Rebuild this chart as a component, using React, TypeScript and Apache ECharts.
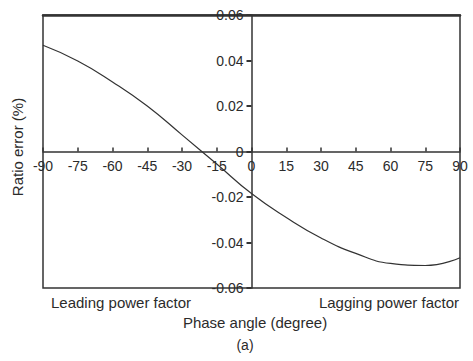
import React, { useEffect, useRef } from "react";
import * as echarts from "echarts";

const phaseAngles = [-90, -75, -60, -45, -30, -15, 0, 15, 30, 45, 60, 75, 90];
const ratioError = [0.0467, 0.0398, 0.0306, 0.02, 0.0073, -0.0055, -0.0185, -0.029, -0.038, -0.0448, -0.0492, -0.0501, -0.0467];
const xTitle = "Phase angle (degree)";
const yTitle = "Ratio error (%)";
const leftNote = "Leading power factor";
const rightNote = "Lagging power factor";
const caption = "(a)";

const FONT = "'Liberation Sans', Arial, Helvetica, sans-serif";
const TXT = "#2b2b2b";

const W = 473;
const H = 361;
const G = { left: 43, right: 13, top: 15, bottom: 73 };

export default function App() {
  const ref = useRef<HTMLDivElement>(null);
  useEffect(() => {
    if (!ref.current) return;
    const chart = echarts.init(ref.current, null, { renderer: "svg" });
    const data = phaseAngles.map((a, i) => [a, ratioError[i]]);
    const gw = W - G.left - G.right;
    const gh = H - G.top - G.bottom;
    chart.setOption({
      animation: false,
      backgroundColor: "#fff",
      textStyle: { fontFamily: FONT },
      grid: {
        ...G,
        show: true,
        borderColor: "#333",
        borderWidth: 1.5,
        backgroundColor: "transparent",
      },
      xAxis: [
        {
          type: "value",
          min: -90,
          max: 90,
          interval: 15,
          offset: -gh / 2,
          axisLine: { onZero: false, lineStyle: { color: "#333", width: 1.5 } },
          axisTick: { show: true, inside: true, length: 4, lineStyle: { color: "#333", width: 1.5 } },
          axisLabel: { color: TXT, fontSize: 14, fontFamily: FONT, margin: 7 },
          splitLine: { show: false },
        },
        {
          type: "value",
          position: "top",
          min: -90,
          max: 90,
          axisLine: { show: true, onZero: false, lineStyle: { color: "#333", width: 2.5 } },
          axisTick: { show: false },
          axisLabel: { show: false },
          splitLine: { show: false },
        },
      ],
      yAxis: {
        type: "value",
        min: -0.06,
        max: 0.06,
        interval: 0.02,
        offset: -gw / 2,
        axisLine: { onZero: false, lineStyle: { color: "#333", width: 1.5 } },
        axisTick: { show: true, inside: false, length: 5, lineStyle: { color: "#333", width: 2 } },
        axisLabel: {
          color: TXT,
          fontSize: 14,
          fontFamily: FONT,
          margin: 8,
          formatter: (v: number) => (Math.abs(v) < 1e-9 ? "0" : v.toFixed(2)),
        },
        splitLine: { show: false },
      },
      series: [
        {
          type: "line",
          data,
          smooth: true,
          showSymbol: false,
          lineStyle: { color: "#333", width: 1.2 },
          xAxisIndex: 0,
        },
      ],
      graphic: [
        { type: "text", x: 51, y: 302, style: { text: leftNote, fontSize: 15, fontFamily: FONT, fill: TXT, align: "left", verticalAlign: "middle" } },
        { type: "text", x: 459, y: 302, style: { text: rightNote, fontSize: 15, fontFamily: FONT, fill: TXT, align: "right", verticalAlign: "middle" } },
        { type: "text", x: 255, y: 322, style: { text: xTitle, fontSize: 15, fontFamily: FONT, fill: TXT, align: "center", verticalAlign: "middle" } },
        { type: "text", x: 245, y: 345, style: { text: caption, fontSize: 14, fontFamily: FONT, fill: TXT, align: "center", verticalAlign: "middle" } },
        { type: "text", x: 17, y: 147, rotation: Math.PI / 2, style: { text: yTitle, fontSize: 15, fontFamily: FONT, fill: TXT, align: "center", verticalAlign: "middle" } },
      ],
    });
    return () => chart.dispose();
  }, []);
  return (
    <div
      ref={ref}
      style={{ position: "fixed", left: 0, top: 0, width: W, height: H, background: "#fff" }}
    />
  );
}
